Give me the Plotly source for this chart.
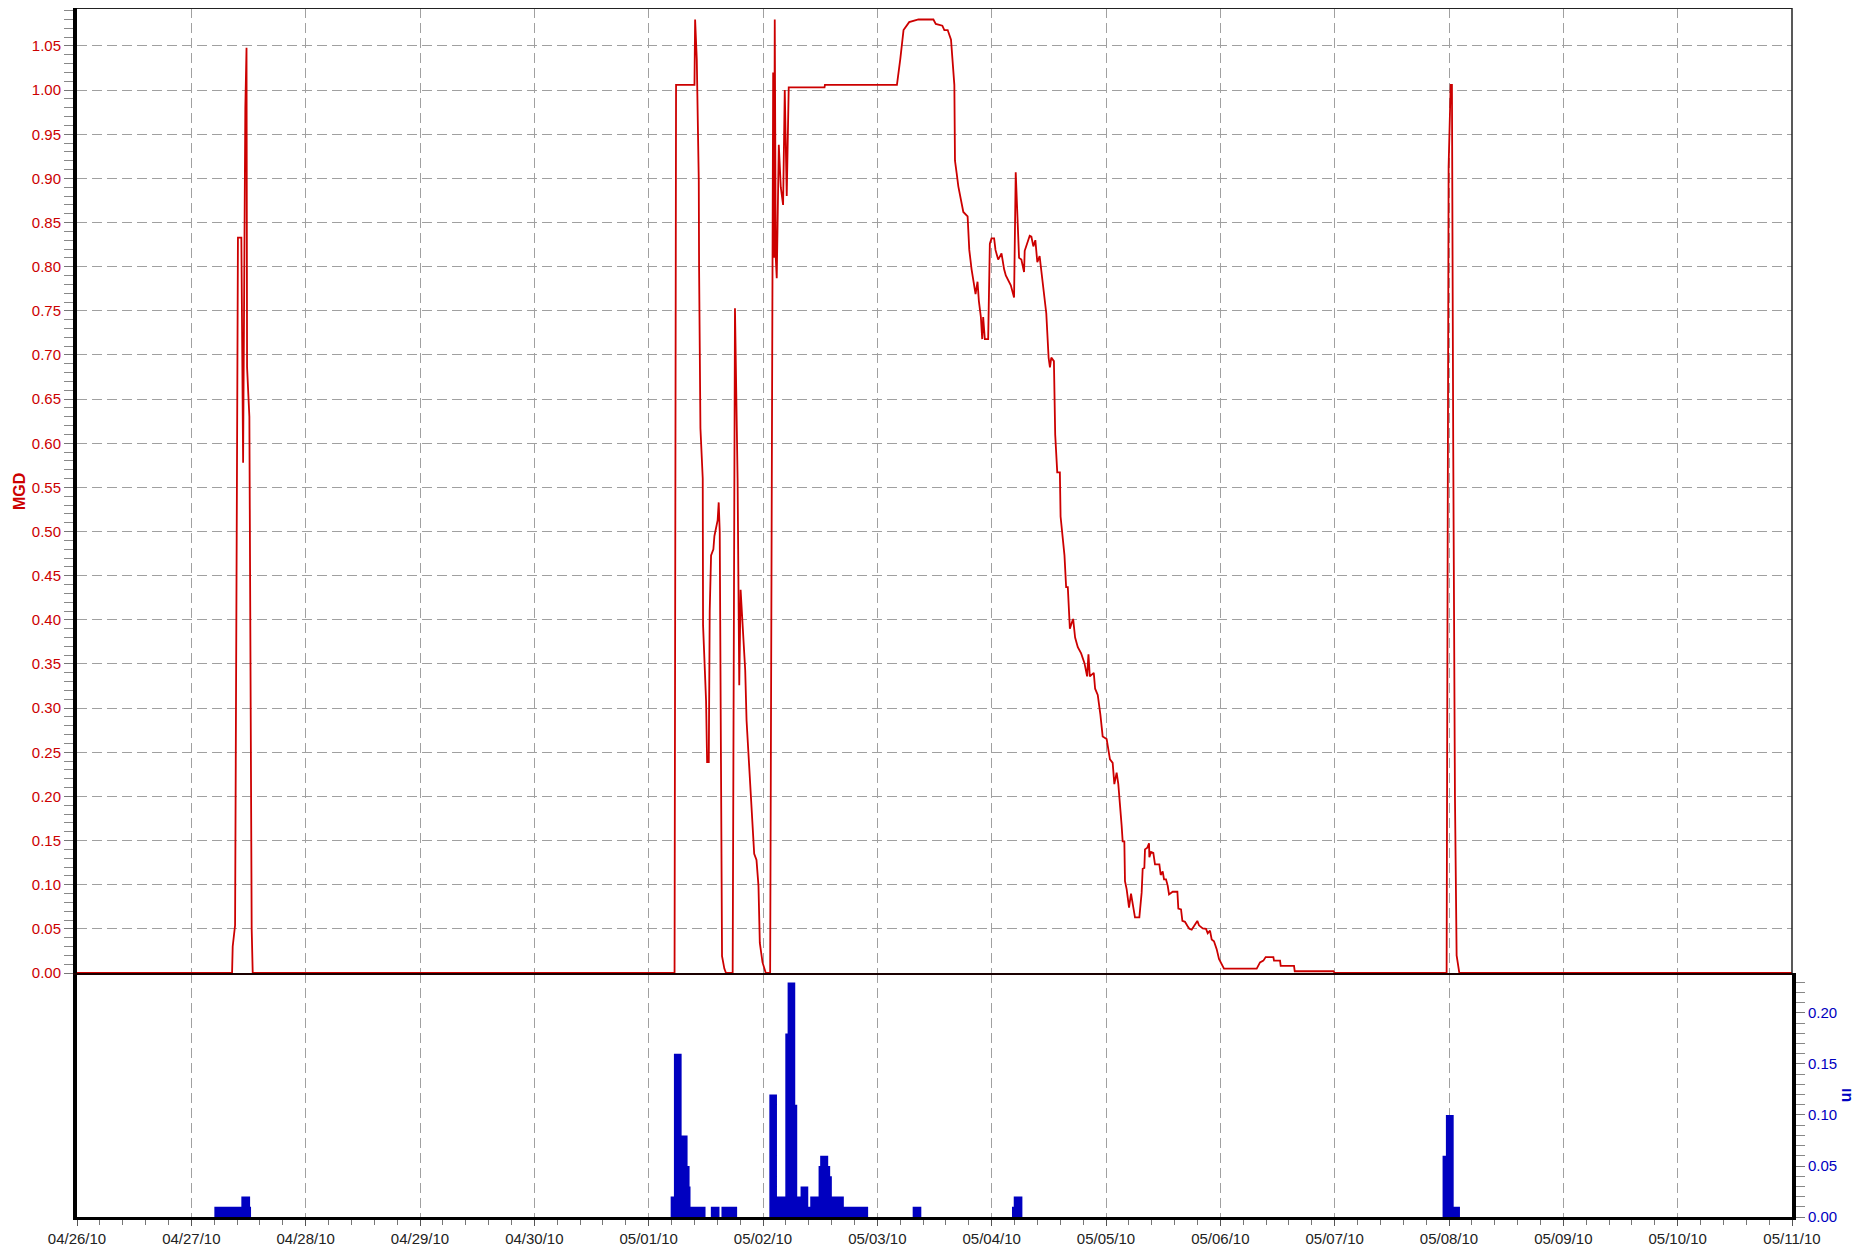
import plotly.graph_objects as go

# ---------------- data ----------------
flow_time = [
    "2010-04-26 00:00", "2010-04-27 08:33", "2010-04-27 08:41", "2010-04-27 09:11", "2010-04-27 09:47",
    "2010-04-27 10:30", "2010-04-27 10:52", "2010-04-27 11:20", "2010-04-27 11:35", "2010-04-27 11:42",
    "2010-04-27 12:11", "2010-04-27 12:40", "2010-04-27 12:53",
    "2010-05-01 05:26", "2010-05-01 05:45", "2010-05-01 09:37", "2010-05-01 09:45", "2010-05-01 10:06",
    "2010-05-01 10:31", "2010-05-01 10:35", "2010-05-01 10:52", "2010-05-01 11:21", "2010-05-01 11:25",
    "2010-05-01 12:03", "2010-05-01 12:16", "2010-05-01 12:37", "2010-05-01 12:49", "2010-05-01 13:06",
    "2010-05-01 13:35", "2010-05-01 13:48", "2010-05-01 14:29", "2010-05-01 14:42", "2010-05-01 14:55",
    "2010-05-01 15:24", "2010-05-01 15:53", "2010-05-01 16:14", "2010-05-01 17:38", "2010-05-01 18:07",
    "2010-05-01 18:40", "2010-05-01 19:01", "2010-05-01 19:18", "2010-05-01 19:51", "2010-05-01 20:16",
    "2010-05-01 20:33", "2010-05-01 21:07", "2010-05-01 21:23", "2010-05-01 21:48", "2010-05-01 22:09",
    "2010-05-01 22:38", "2010-05-01 23:03", "2010-05-01 23:20", "2010-05-01 23:54", "2010-05-02 00:35",
    "2010-05-02 01:30", "2010-05-02 02:08", "2010-05-02 02:20", "2010-05-02 02:28", "2010-05-02 02:41",
    "2010-05-02 02:53", "2010-05-02 03:19", "2010-05-02 03:44", "2010-05-02 04:13", "2010-05-02 04:34",
    "2010-05-02 04:59", "2010-05-02 05:24", "2010-05-02 12:55", "2010-05-02 13:00", "2010-05-03 04:07",
    "2010-05-03 04:49", "2010-05-03 05:30", "2010-05-03 06:41", "2010-05-03 08:38", "2010-05-03 11:46",
    "2010-05-03 12:16", "2010-05-03 13:39", "2010-05-03 14:04", "2010-05-03 14:46", "2010-05-03 15:28",
    "2010-05-03 16:10", "2010-05-03 16:18", "2010-05-03 16:39", "2010-05-03 17:00", "2010-05-03 18:03",
    "2010-05-03 18:57", "2010-05-03 19:18", "2010-05-03 19:47", "2010-05-03 20:37", "2010-05-03 21:02",
    "2010-05-03 21:19", "2010-05-03 21:44", "2010-05-03 22:01", "2010-05-03 22:13", "2010-05-03 22:34",
    "2010-05-03 23:16", "2010-05-03 23:37", "2010-05-03 23:58", "2010-05-04 00:31", "2010-05-04 00:48",
    "2010-05-04 01:22", "2010-05-04 02:04", "2010-05-04 02:37", "2010-05-04 02:58", "2010-05-04 04:01",
    "2010-05-04 04:42", "2010-05-04 05:03", "2010-05-04 05:32", "2010-05-04 05:45", "2010-05-04 06:14",
    "2010-05-04 06:48", "2010-05-04 06:56", "2010-05-04 07:59", "2010-05-04 08:20", "2010-05-04 08:45",
    "2010-05-04 09:10", "2010-05-04 09:35", "2010-05-04 10:04", "2010-05-04 10:25", "2010-05-04 10:46",
    "2010-05-04 11:28", "2010-05-04 11:57", "2010-05-04 12:14", "2010-05-04 12:31", "2010-05-04 13:04",
    "2010-05-04 13:20", "2010-05-04 13:46", "2010-05-04 14:19", "2010-05-04 14:28", "2010-05-04 15:17",
    "2010-05-04 15:38", "2010-05-04 15:59", "2010-05-04 16:25", "2010-05-04 16:50", "2010-05-04 17:06",
    "2010-05-04 17:31", "2010-05-04 18:05", "2010-05-04 18:47", "2010-05-04 19:29", "2010-05-04 20:02",
    "2010-05-04 20:19", "2010-05-04 20:36", "2010-05-04 21:26", "2010-05-04 21:43", "2010-05-04 22:16",
    "2010-05-04 22:49", "2010-05-04 23:18", "2010-05-05 00:08", "2010-05-05 00:29", "2010-05-05 00:50",
    "2010-05-05 01:24", "2010-05-05 01:45", "2010-05-05 02:14", "2010-05-05 02:35", "2010-05-05 03:17",
    "2010-05-05 03:30", "2010-05-05 03:51", "2010-05-05 03:59", "2010-05-05 04:20", "2010-05-05 04:50",
    "2010-05-05 05:15", "2010-05-05 05:44", "2010-05-05 06:05", "2010-05-05 07:00", "2010-05-05 07:29",
    "2010-05-05 07:42", "2010-05-05 08:03", "2010-05-05 08:11", "2010-05-05 08:41", "2010-05-05 09:02",
    "2010-05-05 09:06", "2010-05-05 09:27", "2010-05-05 09:56", "2010-05-05 10:17", "2010-05-05 11:12",
    "2010-05-05 11:29", "2010-05-05 11:54", "2010-05-05 12:11", "2010-05-05 12:36", "2010-05-05 12:57",
    "2010-05-05 13:14", "2010-05-05 14:00", "2010-05-05 14:59", "2010-05-05 15:11", "2010-05-05 15:45",
    "2010-05-05 16:02", "2010-05-05 16:35", "2010-05-05 17:04", "2010-05-05 17:30", "2010-05-05 17:59",
    "2010-05-05 18:41", "2010-05-05 19:10", "2010-05-05 19:31", "2010-05-05 20:18", "2010-05-05 21:00",
    "2010-05-05 21:21", "2010-05-05 21:50", "2010-05-05 22:11", "2010-05-05 22:40", "2010-05-05 23:14",
    "2010-05-05 23:43", "2010-05-06 00:17", "2010-05-06 00:46", "2010-05-06 07:38", "2010-05-06 08:20",
    "2010-05-06 09:02", "2010-05-06 09:31", "2010-05-06 11:08", "2010-05-06 11:16", "2010-05-06 12:32",
    "2010-05-06 12:40", "2010-05-06 15:28", "2010-05-06 15:37", "2010-05-06 23:44", "2010-05-07 00:00",
    "2010-05-07 23:30", "2010-05-07 23:55", "2010-05-08 00:21", "2010-05-08 00:37", "2010-05-08 00:53",
    "2010-05-08 01:15", "2010-05-08 01:36", "2010-05-08 02:10", "2010-05-11 00:00",
]
flow_mgd = [
    0, 0, 0.03, 0.054, 0.833,
    0.833, 0.578, 0.98, 1.048, 0.686,
    0.63, 0.05, 0,
    0, 1.006, 1.006, 1.08, 1.035,
    0.898, 0.80, 0.617, 0.56, 0.394,
    0.308, 0.239, 0.239, 0.41, 0.473,
    0.48, 0.495, 0.513, 0.533, 0.50,
    0.019, 0.005, 0, 0, 0.753,
    0.56, 0.326, 0.434, 0.387, 0.343,
    0.286, 0.236, 0.207, 0.171, 0.135,
    0.128, 0.099, 0.034, 0.012, 0,
    0, 1.02, 0.81, 1.08, 0.81,
    0.787, 0.938, 0.89, 0.87, 1.00,
    0.88, 1.003, 1.003, 1.006, 1.006,
    1.035, 1.068, 1.077, 1.08, 1.08,
    1.075, 1.073, 1.068, 1.068, 1.057,
    1.006, 0.92, 0.906, 0.891, 0.862,
    0.857, 0.819, 0.797, 0.769, 0.783,
    0.761, 0.743, 0.718, 0.743, 0.718,
    0.718, 0.826, 0.832, 0.832, 0.819,
    0.808, 0.815, 0.797, 0.79, 0.779,
    0.765, 0.907, 0.848, 0.81, 0.808,
    0.794, 0.818, 0.835, 0.834, 0.823,
    0.830, 0.805, 0.812, 0.797, 0.779,
    0.747, 0.697, 0.686, 0.697, 0.693,
    0.61, 0.567, 0.567, 0.517, 0.473,
    0.437, 0.437, 0.39, 0.397, 0.401,
    0.38, 0.369, 0.362, 0.351, 0.336,
    0.361, 0.336, 0.340, 0.322, 0.315,
    0.293, 0.268, 0.265, 0.252, 0.242,
    0.238, 0.214, 0.227, 0.214, 0.167,
    0.149, 0.149, 0.104, 0.095, 0.074,
    0.090, 0.076, 0.063, 0.063, 0.091,
    0.118, 0.119, 0.140, 0.142, 0.147,
    0.131, 0.137, 0.136, 0.123, 0.123,
    0.111, 0.115, 0.106, 0.106, 0.099,
    0.089, 0.092, 0.092, 0.073, 0.072,
    0.059, 0.058, 0.0535, 0.050, 0.049,
    0.055, 0.059, 0.054, 0.0505, 0.050,
    0.045, 0.048, 0.038, 0.036, 0.027,
    0.016, 0.010, 0.005, 0.005, 0.012,
    0.014, 0.018, 0.018, 0.014, 0.014,
    0.008, 0.008, 0.002, 0.002, 0,
    0, 0.913, 1.006, 1.006, 0.6,
    0.2, 0.02, 0, 0,
]

rain_time = [
    "2010-04-27 04:50", "2010-04-27 10:30", "2010-04-27 12:20", "2010-04-27 12:32",
    "2010-05-01 04:37", "2010-05-01 05:18", "2010-05-01 06:55", "2010-05-01 08:10", "2010-05-01 08:35",
    "2010-05-01 08:47", "2010-05-01 11:56", "2010-05-01 13:03", "2010-05-01 14:52", "2010-05-01 15:17",
    "2010-05-01 18:34",
    "2010-05-02 01:20", "2010-05-02 02:56", "2010-05-02 04:41", "2010-05-02 05:10", "2010-05-02 06:46",
    "2010-05-02 07:11", "2010-05-02 07:53", "2010-05-02 09:30", "2010-05-02 09:55", "2010-05-02 11:40",
    "2010-05-02 12:00", "2010-05-02 13:41", "2010-05-02 14:06", "2010-05-02 14:27", "2010-05-02 16:58",
    "2010-05-02 22:04",
    "2010-05-03 07:25", "2010-05-03 09:14",
    "2010-05-04 04:16", "2010-05-04 04:38", "2010-05-04 06:27",
    "2010-05-07 22:39", "2010-05-07 23:21", "2010-05-08 00:59", "2010-05-08 02:18",
]
rain_in = [
    0.01, 0.02, 0.01, 0,
    0.02, 0.16, 0.08, 0.05, 0.03,
    0.01, 0, 0.01, 0, 0.01,
    0,
    0.12, 0.02, 0.18, 0.23, 0.11,
    0.02, 0.03, 0.01, 0.02, 0.05,
    0.06, 0.05, 0.04, 0.02, 0.01,
    0,
    0.01, 0,
    0.01, 0.02, 0,
    0.06, 0.10, 0.01, 0,
]

x_start = "2010-04-26 00:00"
x_end = "2010-05-11 00:00"

# ---------------- styling ----------------
RED = "#cc0000"
BLUE = "#0000c0"
GRID = "#a0a0a0"
FONT = "Liberation Sans, Arial, sans-serif"
SPLIT = 244 / 1209  # bottom panel fraction of plot height

fig = go.Figure()

fig.add_trace(go.Scatter(
    x=rain_time, y=rain_in, mode="lines", line=dict(shape="hv", width=0, color=BLUE),
    fill="tozeroy", fillcolor=BLUE, xaxis="x", yaxis="y2", showlegend=False, hoverinfo="x+y",
))
fig.add_trace(go.Scatter(
    x=flow_time, y=flow_mgd, mode="lines", line=dict(color=RED, width=1.8),
    xaxis="x2", yaxis="y", showlegend=False,
))

grid_common = dict(showgrid=True, gridcolor=GRID, gridwidth=1, griddash="10px,5px")

fig.update_layout(
    width=1860, height=1246,
    margin=dict(l=69, r=76, t=0, b=37),
    paper_bgcolor="white", plot_bgcolor="white",
    font=dict(family=FONT, size=15, color="#222222"),
    xaxis=dict(
        domain=[0, 1], anchor="y2", type="date", range=[x_start, x_end],
        tick0="2010-04-26", dtick=86400000, tickformat="%m/%d/%y",
        ticks="outside", ticklen=6, tickcolor="#555555", tickwidth=1,
        minor=dict(dtick=17280000, ticks="outside", ticklen=5, tickcolor="#777777", showgrid=False),
        showline=True, linecolor="black", linewidth=3,
        tickfont=dict(size=15, color="#222222"),
        zeroline=False, **grid_common,
    ),
    xaxis2=dict(
        domain=[0, 1], anchor="y", matches="x", type="date",
        tick0="2010-04-26", dtick=86400000,
        showticklabels=False, ticks="",
        showline=True, linecolor="#1a0000", linewidth=2,
        zeroline=False, **grid_common,
    ),
    yaxis=dict(
        domain=[SPLIT, 1], anchor="x2", range=[0, 1.093],
        dtick=0.05, tick0=0, tickformat=".2f",
        ticks="outside", ticklen=9, tickcolor="#777777", tickwidth=1,
        minor=dict(dtick=0.01, ticks="outside", ticklen=9, tickcolor="#888888", showgrid=False),
        tickfont=dict(size=15, color=RED),
        showline=True, linecolor="black", linewidth=4,
        zeroline=False, **grid_common,
    ),
    yaxis2=dict(
        domain=[0, SPLIT], anchor="x", side="right", range=[0, 0.2392],
        dtick=0.05, tick0=0, tickformat=".2f",
        ticks="outside", ticklen=9, tickcolor="#777777", tickwidth=1,
        minor=dict(dtick=0.01, ticks="outside", ticklen=9, tickcolor="#888888", showgrid=False),
        tickfont=dict(size=15, color=BLUE),
        showline=True, linecolor="black", linewidth=4, mirror=True,
        showgrid=False, zeroline=False,
    ),
    shapes=[
        dict(type="line", xref="paper", yref="paper", x0=0, x1=1, y0=1, y1=1,
             line=dict(color="#222222", width=2)),
        dict(type="line", xref="paper", yref="paper", x0=1, x1=1, y0=SPLIT, y1=1,
             line=dict(color="#222222", width=1.5)),
    ],
    annotations=[
        dict(text="<b>MGD</b>", xref="paper", yref="paper", x=-0.0332, y=0.5997,
             showarrow=False, textangle=-90, font=dict(size=16, color=RED, family=FONT),
             xanchor="center", yanchor="middle"),
        dict(text="<b>in</b>", xref="paper", yref="paper", x=1.0327, y=0.1009,
             showarrow=False, textangle=90, font=dict(size=16, color=BLUE, family=FONT),
             xanchor="center", yanchor="middle"),
    ],
)

fig.write_html("out.html")
